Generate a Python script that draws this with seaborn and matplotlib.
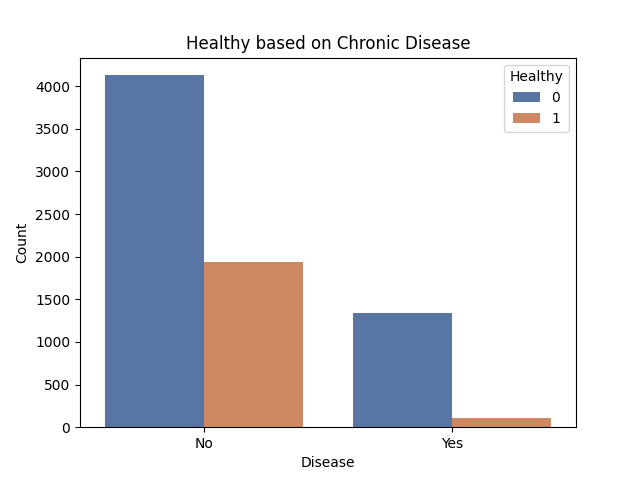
import matplotlib
matplotlib.use("Agg")
import matplotlib.pyplot as plt
import seaborn as sns
import pandas as pd

disease = ["No", "No", "Yes", "Yes"]
healthy = ["0", "1", "0", "1"]
counts = [4128, 1935, 1337, 106]

df = pd.DataFrame({"Disease": disease, "Healthy": healthy, "Count": counts})

fig, ax = plt.subplots(figsize=(6.4, 4.8), dpi=100)
sns.barplot(data=df, x="Disease", y="Count", hue="Healthy", palette="deep", ax=ax)
ax.set_title("Healthy based on Chronic Disease")
ax.set_xlabel("Disease")
ax.set_ylabel("Count")
fig.savefig("out.png")
